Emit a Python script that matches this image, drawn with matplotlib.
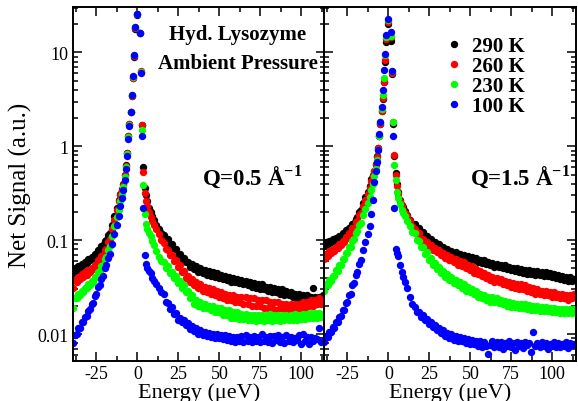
import matplotlib
matplotlib.use("Agg")
import matplotlib.pyplot as plt
from matplotlib.ticker import MultipleLocator, LogLocator, FuncFormatter, NullFormatter

# energy transfer (ueV), same grid for every curve
energy = [
    -39, -38, -37, -36, -35, -34, -33, -32, -31, -30,
    -29, -28, -27, -26, -25, -24, -23, -22, -21, -20, -19, -18, -17,
    -15.5, -14, -12.7, -11.5, -10.4, -9.4, -8.5, -7.7, -7.0, -6.3, -5.6, -4.9,
    -4.2, -3.5, -2.8, -2.1, -1.4, -0.5,
    1.5, 2.2, 3.0, 3.7, 4.4, 5.2, 6.0, 7.0, 8.0, 9.0, 10.0, 11.5, 13.0, 14.5,
    16, 17.25, 18.5, 19.75, 21, 22.25, 23.5, 24.75, 26, 27.25,
    28.5, 29.75, 31, 32.25, 33.5, 34.75, 36, 37.25, 38.5, 39.75,
    41, 42.25, 43.5, 44.75, 46, 47.25, 48.5, 49.75, 51, 52.25,
    53.5, 54.75, 56, 57.25, 58.5, 59.75, 61, 62.25, 63.5, 64.75,
    66, 67.25, 68.5, 69.75, 71, 72.25, 73.5, 74.75, 76, 77.25,
    78.5, 79.75, 81, 82.25, 83.5, 84.75, 86, 87.25, 88.5, 89.75,
    91, 92.25, 93.5, 94.75, 96, 97.25, 98.5, 99.75, 101, 102.25,
    103.5, 104.75, 106, 107.25, 108.5, 109.75, 111, 112.25, 113.5,
]

temps = ["290 K", "260 K", "230 K", "100 K"]
colors = ["black", "#ff0000", "#00ff00", "#0000ff"]

# Q = 0.5 A^-1
black_q05 = [
    0.045, 0.051, 0.048, 0.053, 0.051, 0.056, 0.054, 0.059, 0.057, 0.063,
    0.061, 0.067, 0.065, 0.072, 0.071, 0.078, 0.078, 0.087, 0.088, 0.098, 0.101, 0.113, 0.118,
    0.145, 0.18, 0.22, 0.27, 0.31, 0.35, 0.40, 0.50, 0.63, 0.85, 1.3, 1.75,
    2.3, 3.4, 5.3, 9.0, 18.0, 25.0,
    16.0, 6.2, 1.68, 0.60, 0.36, 0.30, 0.26, 0.22, 0.20, 0.18, 0.165, 0.145, 0.13, 0.118,
    0.114, 0.101, 0.102, 0.089, 0.091, 0.080, 0.081, 0.070, 0.072, 0.063,
    0.065, 0.058, 0.059, 0.052, 0.056, 0.049, 0.053, 0.046, 0.050, 0.045,
    0.048, 0.043, 0.047, 0.042, 0.046, 0.041, 0.045, 0.040, 0.043, 0.039,
    0.042, 0.038, 0.041, 0.036, 0.040, 0.036, 0.039, 0.035, 0.038, 0.034,
    0.037, 0.033, 0.036, 0.032, 0.035, 0.031, 0.034, 0.030, 0.034, 0.030,
    0.032, 0.029, 0.032, 0.028, 0.031, 0.028, 0.030, 0.027, 0.030, 0.026,
    0.029, 0.026, 0.028, 0.025, 0.027, 0.024, 0.027, 0.024, 0.026, 0.024,
    0.026, 0.023, 0.025, 0.031, 0.025, 0.023, 0.025, 0.024, 0.026,
]
red_q05 = [
    0.031, 0.038, 0.036, 0.041, 0.039, 0.044, 0.041, 0.046, 0.043, 0.048,
    0.046, 0.051, 0.049, 0.055, 0.054, 0.061, 0.060, 0.068, 0.069, 0.079, 0.081, 0.095, 0.103,
    0.13, 0.165, 0.21, 0.26, 0.30, 0.34, 0.39, 0.49, 0.62, 0.84, 1.28, 1.72,
    2.3, 3.4, 5.4, 9.2, 18.3, 25.5,
    16.2, 6.3, 1.68, 0.53, 0.32, 0.26, 0.23, 0.20, 0.175, 0.16, 0.145, 0.13, 0.115, 0.10,
    0.093, 0.080, 0.079, 0.069, 0.070, 0.060, 0.062, 0.052, 0.055, 0.046,
    0.047, 0.040, 0.042, 0.036, 0.039, 0.033, 0.036, 0.031, 0.034, 0.029,
    0.032, 0.028, 0.031, 0.027, 0.030, 0.026, 0.029, 0.025, 0.028, 0.024,
    0.027, 0.023, 0.026, 0.023, 0.026, 0.022, 0.025, 0.022, 0.025, 0.021,
    0.025, 0.021, 0.024, 0.020, 0.024, 0.020, 0.023, 0.020, 0.023, 0.019,
    0.023, 0.019, 0.022, 0.019, 0.022, 0.018, 0.022, 0.019, 0.021, 0.018,
    0.021, 0.018, 0.021, 0.019, 0.021, 0.018, 0.021, 0.019, 0.022, 0.019,
    0.022, 0.020, 0.023, 0.020, 0.023, 0.021, 0.024, 0.021, 0.023,
]
green_q05 = [
    0.019, 0.024, 0.024, 0.027, 0.026, 0.029, 0.028, 0.031, 0.031, 0.034,
    0.033, 0.037, 0.036, 0.041, 0.041, 0.046, 0.047, 0.053, 0.055, 0.063, 0.066, 0.078, 0.086,
    0.11, 0.14, 0.175, 0.21, 0.26, 0.31, 0.37, 0.47, 0.60, 0.82, 1.25, 1.7,
    2.35, 3.5, 5.5, 9.3, 18.6, 25.8,
    16.3, 6.2, 1.5, 0.39, 0.19, 0.15, 0.13, 0.12, 0.11, 0.098, 0.088, 0.077, 0.067, 0.060,
    0.059, 0.051, 0.053, 0.045, 0.046, 0.040, 0.042, 0.035, 0.037, 0.031,
    0.033, 0.028, 0.029, 0.024, 0.026, 0.021, 0.023, 0.020, 0.022, 0.019,
    0.021, 0.019, 0.020, 0.018, 0.020, 0.017, 0.019, 0.017, 0.019, 0.016,
    0.018, 0.016, 0.018, 0.015, 0.017, 0.015, 0.017, 0.0145, 0.0165, 0.0145,
    0.0162, 0.0142, 0.0160, 0.0140, 0.0158, 0.0138, 0.0158, 0.0140, 0.0160, 0.0137,
    0.0158, 0.0140, 0.0162, 0.0138, 0.0160, 0.0142, 0.0158, 0.0138, 0.0160, 0.0140,
    0.0160, 0.0140, 0.0158, 0.0142, 0.0162, 0.0140, 0.0160, 0.0143, 0.0165, 0.0145,
    0.0163, 0.0147, 0.0168, 0.0148, 0.0166, 0.0150, 0.0168, 0.0152, 0.0165,
]
blue_q05 = [
    0.0080, 0.0098, 0.0101, 0.0115, 0.0117, 0.0134, 0.0136, 0.0153, 0.0155, 0.0178,
    0.0185, 0.0210, 0.0212, 0.0255, 0.027, 0.0315, 0.033, 0.039, 0.042, 0.050, 0.054, 0.064, 0.072,
    0.092, 0.115, 0.145, 0.18, 0.23, 0.28, 0.34, 0.44, 0.57, 0.78, 1.2, 1.65,
    2.3, 3.5, 5.6, 9.5, 18.8, 26.0,
    16.0, 6.0, 1.28, 0.22, 0.07, 0.056, 0.05, 0.047, 0.045, 0.040, 0.037, 0.034, 0.031, 0.028,
    0.027, 0.022, 0.0215, 0.0185, 0.0192, 0.0162, 0.0166, 0.0142, 0.0150, 0.0133,
    0.0140, 0.0124, 0.0130, 0.0114, 0.0123, 0.0108, 0.0115, 0.0101, 0.0110, 0.0097,
    0.0105, 0.0095, 0.0103, 0.0093, 0.0101, 0.0091, 0.0099, 0.0090, 0.0098, 0.0088,
    0.0097, 0.0086, 0.0095, 0.0084, 0.0094, 0.0083, 0.0093, 0.0085, 0.0096, 0.0082,
    0.0097, 0.0084, 0.0094, 0.0082, 0.0096, 0.0085, 0.0093, 0.0083, 0.0099, 0.0084,
    0.0092, 0.0082, 0.0096, 0.0080, 0.0095, 0.0086, 0.0098, 0.0083, 0.0094, 0.0081,
    0.0098, 0.0085, 0.0093, 0.0082, 0.0091, 0.0086, 0.0097, 0.0079, 0.0099, 0.0084,
    0.0094, 0.0078, 0.0093, 0.0085, 0.0090, 0.0088, 0.0115, 0.0082, 0.0087,
]

# Q = 1.5 A^-1
black_q15 = [
    0.087, 0.095, 0.091, 0.099, 0.096, 0.102, 0.099, 0.106, 0.103, 0.111,
    0.108, 0.118, 0.116, 0.127, 0.125, 0.136, 0.135, 0.149, 0.152, 0.170, 0.177, 0.202, 0.212,
    0.25, 0.29, 0.33, 0.38, 0.45, 0.50, 0.55, 0.65, 0.78, 0.95, 1.3, 1.75,
    2.4, 3.2, 4.8, 8.0, 13.0, 20.0,
    13.3, 5.9, 1.75, 0.78, 0.52, 0.40, 0.33, 0.27, 0.24, 0.225, 0.205, 0.185, 0.165, 0.15,
    0.148, 0.132, 0.134, 0.119, 0.122, 0.109, 0.112, 0.100, 0.103, 0.093,
    0.096, 0.087, 0.090, 0.081, 0.085, 0.077, 0.081, 0.073, 0.077, 0.069,
    0.074, 0.068, 0.072, 0.065, 0.070, 0.063, 0.068, 0.062, 0.066, 0.061,
    0.064, 0.059, 0.062, 0.057, 0.061, 0.056, 0.059, 0.054, 0.057, 0.052,
    0.056, 0.052, 0.055, 0.051, 0.054, 0.049, 0.052, 0.048, 0.051, 0.047,
    0.050, 0.046, 0.049, 0.045, 0.048, 0.044, 0.048, 0.044, 0.047, 0.043,
    0.047, 0.043, 0.046, 0.042, 0.046, 0.042, 0.045, 0.041, 0.044, 0.040,
    0.043, 0.039, 0.042, 0.038, 0.041, 0.037, 0.041, 0.037, 0.039,
]
red_q15 = [
    0.063, 0.071, 0.068, 0.076, 0.073, 0.080, 0.077, 0.085, 0.082, 0.091,
    0.088, 0.099, 0.096, 0.108, 0.106, 0.119, 0.118, 0.134, 0.136, 0.155, 0.160, 0.186, 0.197,
    0.23, 0.27, 0.31, 0.36, 0.43, 0.48, 0.54, 0.64, 0.77, 0.95, 1.3, 1.75,
    2.4, 3.3, 4.9, 8.3, 13.8, 21.0,
    14.5, 6.1, 1.8, 0.80, 0.50, 0.38, 0.31, 0.26, 0.23, 0.21, 0.195, 0.18, 0.16, 0.14,
    0.133, 0.117, 0.118, 0.103, 0.104, 0.092, 0.096, 0.084, 0.089, 0.078,
    0.083, 0.074, 0.078, 0.069, 0.073, 0.065, 0.069, 0.061, 0.066, 0.058,
    0.063, 0.055, 0.060, 0.053, 0.058, 0.050, 0.055, 0.048, 0.053, 0.045,
    0.049, 0.044, 0.047, 0.042, 0.045, 0.040, 0.043, 0.038, 0.041, 0.036,
    0.040, 0.036, 0.039, 0.034, 0.037, 0.033, 0.036, 0.032, 0.035, 0.031,
    0.034, 0.030, 0.034, 0.030, 0.033, 0.029, 0.032, 0.028, 0.031, 0.027,
    0.030, 0.027, 0.029, 0.026, 0.029, 0.026, 0.028, 0.025, 0.028, 0.025,
    0.027, 0.024, 0.027, 0.024, 0.026, 0.023, 0.026, 0.024, 0.027,
]
green_q15 = [
    0.029, 0.034, 0.033, 0.038, 0.037, 0.042, 0.042, 0.048, 0.047, 0.055,
    0.054, 0.063, 0.063, 0.073, 0.073, 0.085, 0.085, 0.099, 0.102, 0.119, 0.124, 0.145, 0.153,
    0.185, 0.215, 0.25, 0.29, 0.34, 0.40, 0.48, 0.58, 0.72, 0.92, 1.3, 1.8,
    2.5, 3.5, 5.3, 9.3, 14.5, 22.0,
    15.0, 6.3, 1.82, 0.64, 0.44, 0.33, 0.28, 0.245, 0.21, 0.195, 0.18, 0.16, 0.14, 0.122,
    0.119, 0.100, 0.099, 0.084, 0.085, 0.072, 0.074, 0.062, 0.065, 0.055,
    0.057, 0.049, 0.052, 0.045, 0.047, 0.041, 0.044, 0.038, 0.041, 0.035,
    0.038, 0.033, 0.036, 0.031, 0.034, 0.029, 0.032, 0.028, 0.030, 0.027,
    0.029, 0.025, 0.027, 0.024, 0.026, 0.023, 0.025, 0.022, 0.025, 0.022,
    0.024, 0.0215, 0.023, 0.021, 0.0225, 0.020, 0.022, 0.0195, 0.0215, 0.0192,
    0.021, 0.019, 0.021, 0.0188, 0.0208, 0.0185, 0.0205, 0.0182, 0.020, 0.018,
    0.0198, 0.0178, 0.0196, 0.0176, 0.0193, 0.0174, 0.019, 0.0172, 0.0189, 0.0171,
    0.0187, 0.0168, 0.0185, 0.0167, 0.0184, 0.0166, 0.0185, 0.0167, 0.0183,
]
blue_q15 = [
    0.0083, 0.0096, 0.0094, 0.0106, 0.0104, 0.0118, 0.0117, 0.0133, 0.0134, 0.0153,
    0.0155, 0.0180, 0.0182, 0.0215, 0.022, 0.0260, 0.027, 0.033, 0.035, 0.043, 0.046, 0.056, 0.062,
    0.079, 0.095, 0.115, 0.14, 0.19, 0.27, 0.42, 0.55, 0.68, 0.92, 1.35, 1.8,
    2.6, 4.0, 6.5, 9.6, 15.3, 23.0,
    16.4, 6.3, 1.28, 0.22, 0.08, 0.073, 0.068, 0.055, 0.046, 0.041, 0.036, 0.031, 0.025, 0.021,
    0.0196, 0.0170, 0.0171, 0.0152, 0.0161, 0.0140, 0.0146, 0.0128, 0.0136, 0.0119,
    0.0125, 0.0110, 0.0117, 0.0102, 0.0110, 0.0095, 0.0103, 0.0091, 0.0099, 0.0087,
    0.0095, 0.0085, 0.0093, 0.0084, 0.0091, 0.0081, 0.0089, 0.0079, 0.0087, 0.0078,
    0.0085, 0.0075, 0.0084, 0.0073, 0.0083, 0.0074, 0.0062, 0.0076, 0.0084, 0.0072,
    0.0083, 0.0073, 0.0082, 0.0070, 0.0081, 0.0075, 0.0084, 0.0072, 0.0080, 0.0068,
    0.0082, 0.0074, 0.0081, 0.0071, 0.0083, 0.0076, 0.0080, 0.0065, 0.0104, 0.0075,
    0.0080, 0.0072, 0.0083, 0.0074, 0.0081, 0.0070, 0.0079, 0.0075, 0.0082, 0.0073,
    0.0081, 0.0072, 0.0079, 0.0074, 0.0082, 0.0071, 0.0080, 0.0076, 0.0078,
]

panels = [
    [black_q05, red_q05, green_q05, blue_q05],
    [black_q15, red_q15, green_q15, blue_q15],
]
q_labels = [r"Q=0.5 Å$^{\mathbf{-1}}$", r"Q=1.5 Å$^{\mathbf{-1}}$"]

plt.rcParams["font.family"] = ["Liberation Serif", "DejaVu Serif"]
plt.rcParams["axes.unicode_minus"] = False
plt.rcParams["mathtext.fontset"] = "custom"
plt.rcParams["mathtext.rm"] = "Liberation Serif"
plt.rcParams["mathtext.bf"] = "Liberation Serif:bold"

W, H = 578, 402
fig = plt.figure(figsize=(W / 100, H / 100), dpi=100)
ax1 = fig.add_axes([73 / W, 1 - 361.7 / H, 252 / W, 353.4 / H])
ax2 = fig.add_axes([324 / W, 1 - 361.7 / H, 252 / W, 353.4 / H], sharey=ax1)

for ax, series, qlabel, qx in zip([ax1, ax2], panels, q_labels, [0.712, 0.778]):
    for vals, c, lab in zip(series, colors, temps):
        ax.plot(energy, vals, "o", ms=5.3, mec="none", color=c, label=lab)

    ax.set_yscale("log")
    ax.set_ylim(0.0052, 30.3)
    ax.set_xlim(-39.3, 114.5)
    ax.xaxis.set_major_locator(MultipleLocator(25))
    ax.xaxis.set_minor_locator(MultipleLocator(12.5))
    ax.yaxis.set_major_locator(LogLocator(base=10))
    ax.yaxis.set_minor_locator(LogLocator(base=10, subs=range(2, 10)))
    ax.yaxis.set_minor_formatter(NullFormatter())
    ax.tick_params(which="both", direction="in", top=True, right=True,
                   width=1.1, labelsize=13, pad=3)
    ax.tick_params(which="major", length=6.5)
    ax.tick_params(which="minor", length=3.6)
    for sp in ax.spines.values():
        sp.set_linewidth(1.4)
    ax.set_xlabel("Energy (μeV)", fontsize=16, labelpad=0)
    ax.text(qx, 0.523, qlabel, transform=ax.transAxes, ha="center",
            va="center", fontsize=16.5, fontweight="bold")

ax1.yaxis.set_major_formatter(FuncFormatter(lambda v, p: f"{v:g}"))
ax1.set_ylabel("Net Signal (a.u.)", fontsize=18, labelpad=4)
ax2.tick_params(axis="y", which="both", labelleft=False)

ax1.text(0.655, 0.925, "Hyd. Lysozyme", transform=ax1.transAxes, ha="center",
         va="center", fontsize=15, fontweight="bold")
ax1.text(0.655, 0.842, "Ambient Pressure", transform=ax1.transAxes, ha="center",
         va="center", fontsize=15, fontweight="bold")

ax2.legend(loc="upper left", bbox_to_anchor=(0.49, 0.918), frameon=False,
           prop={"weight": "bold", "size": 15}, handlelength=0.6,
           handletextpad=0.6, labelspacing=0.0, borderpad=0, borderaxespad=0,
           numpoints=1)

fig.savefig("out.png", dpi=100)
